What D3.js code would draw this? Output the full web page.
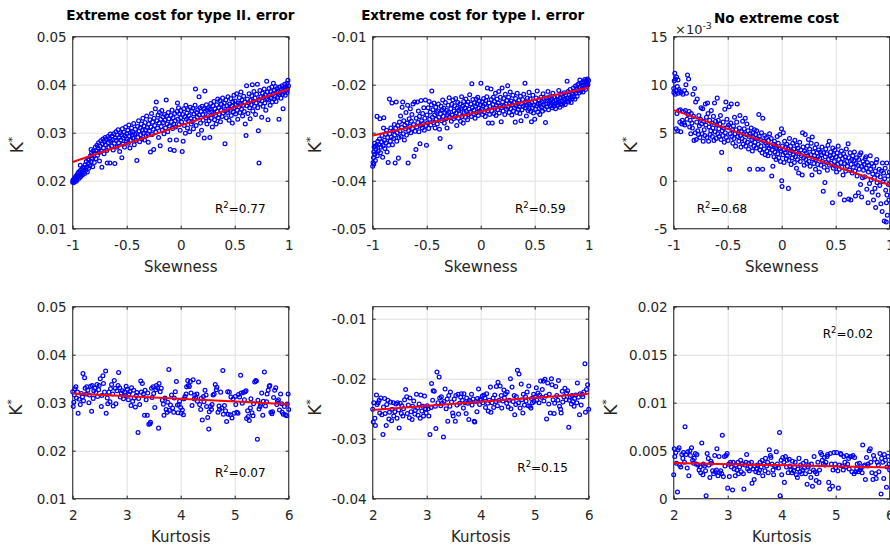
<!DOCTYPE html>
<html><head><meta charset="utf-8">
<script src="https://cdn.jsdelivr.net/npm/d3@7"></script>
<style>
body{margin:0;background:#fff;}
svg{display:block;font-family:"DejaVu Sans",sans-serif;}
</style></head><body>
<svg id="chart" width="890" height="546"></svg>
<script>
// ---- Optimal K* against skewness (top row) and kurtosis (bottom row) ----

const titles = ["Extreme cost for type II. error", "Extreme cost for type I. error", "No extreme cost"];
const xLabelTop = "Skewness";
const xLabelBottom = "Kurtosis";
const r2Values = ["0.77", "0.59", "0.68", "0.07", "0.15", "0.02"];

const skewTicks = [-1, -0.5, 0, 0.5, 1];
const skewTickLabels = ["-1", "-0.5", "0", "0.5", "1"];
const kurtTicks = [2, 3, 4, 5, 6];
const kurtTickLabels = ["2", "3", "4", "5", "6"];

const typeIIYTicks = [0.01, 0.02, 0.03, 0.04, 0.05];
const typeIIYLabels = ["0.01", "0.02", "0.03", "0.04", "0.05"];
const typeISkewYTicks = [-0.05, -0.04, -0.03, -0.02, -0.01];
const typeISkewYLabels = ["-0.05", "-0.04", "-0.03", "-0.02", "-0.01"];
const noExtSkewYTicks = [-5, 0, 5, 10, 15];           // in units of 1e-3
const noExtSkewYLabels = ["-5", "0", "5", "10", "15"];
const typeIKurtYTicks = [-0.04, -0.03, -0.02, -0.01];
const typeIKurtYLabels = ["-0.04", "-0.03", "-0.02", "-0.01"];
const noExtKurtYTicks = [0, 0.005, 0.01, 0.015, 0.02];
const noExtKurtYLabels = ["0", "0.005", "0.01", "0.015", "0.02"];

// fitted regression lines (end points)
const fitSkewTypeII = [[-1, 0.0239], [1, 0.0391]];
const fitSkewTypeI = [[-1, -0.0306], [1, -0.0206]];
const fitSkewNoExt = [[-1, 7.35], [1, -0.45]];
const fitKurtTypeII = [[2, 0.0319], [6, 0.0297]];
const fitKurtTypeI = [[2, -0.0252], [6, -0.0225]];
const fitKurtNoExt = [[2, 0.00372], [6, 0.00324]];

// [skewness, K*] extreme cost for type II error
const skewTypeII = [
[-1,.0197],[-.998,.0201],[-.995,.0199],[-.99,.0203],[-.985,.0198],[-.98,.0206],[-.975,.0202],[-.97,.0209],[-.965,.0204],[-.96,.0212],[-.955,.0207],[-.99,.0196],[-.97,.0199],[-.96,.0201],[-.952,.0215],
[-.948,.0210],[-.945,.0218],[-.94,.0205],[-.935,.0213],[-.93,.0221],[-.925,.0209],[-.92,.0216],[-.915,.0224],[-.91,.0212],[-.905,.0228],[-.9,.0219],[-.93,.0232],
[-.897,.0226],[-.89,.0215],[-.885,.0233],[-.88,.0222],[-.875,.0240],[-.87,.0229],[-.865,.0218],[-.86,.0245],[-.855,.0236],[-.852,.0226],
[-.848,.0243],[-.84,.0231],[-.835,.0252],[-.83,.0240],[-.825,.0258],[-.82,.0247],[-.815,.0229],[-.81,.0262],[-.805,.0251],[-.80,.0238],[-.83,.0265],
[-.797,.0258],[-.79,.0270],[-.785,.0246],[-.78,.0262],[-.775,.0274],[-.77,.0253],[-.765,.0268],[-.76,.0279],[-.755,.0259],[-.752,.0241],
[-.748,.0272],[-.74,.0283],[-.735,.0262],[-.73,.0228],[-.725,.0277],[-.72,.0287],[-.715,.0268],[-.71,.0256],[-.705,.0281],[-.70,.0290],
[-.697,.0275],[-.69,.0286],[-.685,.0263],[-.68,.0237],[-.675,.0292],[-.67,.0279],[-.665,.0269],[-.66,.0288],[-.655,.0237],[-.652,.0297],
[-.648,.0282],[-.64,.0272],[-.635,.0293],[-.63,.0285],[-.625,.0264],[-.62,.0298],[-.615,.0278],[-.61,.0236],[-.605,.0289],[-.60,.0302],
[-.597,.0284],[-.59,.0270],[-.585,.0295],[-.58,.0306],[-.575,.0279],[-.57,.0290],[-.565,.0261],[-.56,.0300],[-.555,.0285],[-.545,.0248],
[-.548,.0296],[-.54,.0308],[-.535,.0276],[-.53,.0289],[-.525,.0301],[-.52,.0270],[-.515,.0293],[-.51,.0312],[-.505,.0283],[-.50,.0298],
[-.497,.0287],[-.49,.0305],[-.485,.0278],[-.48,.0316],[-.475,.0293],[-.47,.0268],[-.465,.0300],[-.46,.0284],[-.455,.0310],[-.45,.0295],
[-.447,.0302],[-.44,.0288],[-.435,.0319],[-.43,.0275],[-.425,.0296],[-.42,.0307],[-.415,.0284],[-.41,.0298],[-.406,.0242],[-.40,.0313],
[-.397,.0290],[-.39,.0325],[-.385,.0303],[-.38,.0281],[-.375,.0310],[-.37,.0296],[-.365,.0318],[-.36,.0287],[-.355,.0305],[-.35,.0330],
[-.347,.0299],[-.34,.0314],[-.335,.0285],[-.33,.0321],[-.325,.0306],[-.32,.0293],[-.315,.0335],[-.31,.0311],[-.305,.0298],[-.30,.0280],
[-.297,.0318],[-.29,.0303],[-.285,.0327],[-.28,.0260],[-.275,.0312],[-.27,.0340],[-.265,.0296],[-.26,.0322],[-.255,.0307],[-.25,.0265],
[-.247,.0330],[-.24,.0315],[-.235,.0350],[-.23,.0301],[-.226,.0364],[-.22,.0325],[-.215,.0310],[-.21,.0337],[-.205,.0290],[-.20,.0320],
[-.197,.0342],[-.19,.0273],[-.185,.0328],[-.18,.0313],[-.175,.0346],[-.17,.0305],[-.165,.0333],[-.16,.0321],[-.155,.0298],[-.15,.0338],
[-.147,.0326],[-.14,.0310],[-.134,.0368],[-.13,.0335],[-.125,.0318],[-.12,.0302],[-.115,.0342],[-.11,.0329],[-.105,.0314],[-.10,.0285],
[-.097,.0265],[-.09,.0336],[-.085,.0322],[-.08,.0347],[-.075,.0309],[-.07,.0331],[-.065,.0318],[-.06,.0263],[-.055,.0340],[-.05,.0325],
[-.047,.0312],[-.04,.0285],[-.035,.0344],[-.03,.0362],[-.025,.0328],[-.02,.0352],[-.015,.0317],[-.01,.0339],[-.005,.0305],[0,.0331],
[.003,.0346],[.008,.0322],[.014,.0261],[.018,.0338],[.023,.0282],[.028,.0350],[.033,.0315],[.038,.0333],[.043,.0299],[.048,.0357],
[.053,.0328],[.058,.0341],[.063,.0310],[.068,.0348],[.073,.0325],[.078,.0336],[.083,.0302],[.088,.0353],[.093,.0330],[.098,.0318],
[.103,.0345],[.108,.0323],[.113,.0351],[.118,.0308],[.123,.0339],[.128,.0328],[.133,.0357],[.137,.0391],[.143,.0315],[.148,.0342],
[.153,.0332],[.158,.0348],[.163,.0296],[.17,.0375],[.173,.0337],[.178,.0352],[.183,.0320],[.188,.0344],[.193,.0305],[.198,.0355],
[.203,.0338],[.208,.0326],[.213,.0350],[.218,.0289],[.224,.0387],[.228,.0345],[.233,.0331],[.238,.0358],[.243,.0318],[.248,.0347],
[.253,.0336],[.258,.0352],[.263,.0325],[.27,.0290],[.273,.0349],[.278,.0361],[.283,.0330],[.288,.0343],[.293,.0312],[.298,.0356],
[.303,.0340],[.308,.0365],[.313,.0327],[.318,.0350],[.323,.0336],[.328,.0318],[.333,.0358],[.338,.0345],[.343,.0370],[.348,.0331],
[.353,.0352],[.358,.0338],[.363,.0367],[.368,.0323],[.373,.0347],[.378,.0359],[.383,.0334],[.388,.0372],[.393,.0341],[.398,.0355],
[.403,.0362],[.41,.0277],[.413,.0345],[.418,.0368],[.423,.0331],[.428,.0356],[.433,.0342],[.438,.0375],[.443,.0350],[.448,.0326],
[.453,.0360],[.458,.0347],[.463,.0371],[.468,.0336],[.473,.0356],[.478,.0320],[.483,.0364],[.488,.0343],[.493,.0378],[.498,.0352],
[.503,.0366],[.508,.0339],[.513,.0358],[.518,.0381],[.523,.0347],[.528,.0328],[.533,.0362],[.538,.0354],[.543,.0373],[.548,.0342],
[.553,.0360],[.558,.0385],[.563,.0349],[.568,.0368],[.573,.0335],[.578,.0357],[.583,.0376],[.588,.0344],[.593,.0364],[.598,.0318],
[.605,.0294],[.61,.0398],[.613,.0356],[.618,.0370],[.623,.0340],[.628,.0362],[.633,.0381],[.638,.0352],[.643,.0329],[.648,.0367],
[.653,.0358],[.658,.0377],[.663,.0400],[.668,.0345],[.673,.0366],[.678,.0386],[.683,.0355],[.688,.0372],[.693,.0338],[.698,.0362],
[.703,.0380],[.71,.0401],[.713,.0352],[.719,.0304],[.725,.0237],[.728,.0369],[.733,.0388],[.738,.0360],[.743,.0375],[.75,.0332],
[.753,.0366],[.758,.0382],[.763,.0355],[.768,.0374],[.773,.0391],[.778,.0362],[.783,.0379],[.788,.0347],[.796,.0407],[.798,.0370],
[.803,.0385],[.808,.0327],[.813,.0368],[.818,.0392],[.823,.0378],[.828,.0357],[.833,.0386],[.838,.0372],[.843,.0395],[.848,.0364],
[.853,.0381],[.858,.0403],[.863,.0370],[.868,.0388],[.873,.0376],[.878,.0396],[.883,.0365],[.888,.0384],[.893,.0392],[.898,.0374],
[.903,.0387],[.91,.0328],[.913,.0379],[.918,.0395],[.923,.0383],[.928,.0372],[.933,.0390],[.938,.0398],[.943,.0380],[.948,.0350],
[.953,.0392],[.958,.0385],[.963,.0401],[.968,.0378],[.973,.0395],[.978,.0388],[.983,.0403],[.988,.0391],[.993,.0409],[.998,.0398],[.965,.0393],[.985,.0384]
];

// [skewness, K*] extreme cost for type I error
const skewTypeI = [
[-1,-.0370],[-.997,-.0362],[-.993,-.0352],[-.99,-.0340],[-.987,-.0330],[-.983,-.0322],[-.98,-.0345],[-.975,-.0358],[-.97,-.0335],[-.965,-.0326],[-.96,-.0266],[-.957,-.0348],[-.953,-.0318],[-.99,-.0365],[-.975,-.0329],
[-.948,-.0338],[-.943,-.0325],[-.938,-.0313],[-.933,-.0271],[-.928,-.0342],[-.923,-.0330],[-.918,-.0319],[-.913,-.0306],[-.908,-.0351],[-.903,-.0327],[-.9,-.0290],
[-.897,-.0269],[-.892,-.0316],[-.887,-.0333],[-.882,-.0303],[-.877,-.0321],[-.872,-.0295],[-.867,-.0340],[-.862,-.0310],[-.857,-.0362],[-.852,-.0326],
[-.845,-.0230],[-.842,-.0302],[-.837,-.0318],[-.832,-.0290],[-.827,-.0309],[-.822,-.0238],[-.817,-.0325],[-.812,-.0296],[-.807,-.0312],[-.80,-.0283],
[-.797,-.0305],[-.792,-.0363],[-.787,-.0291],[-.782,-.0236],[-.777,-.0318],[-.772,-.0300],[-.767,-.0285],[-.762,-.0353],[-.757,-.0310],[-.752,-.0278],
[-.747,-.0296],[-.742,-.0265],[-.737,-.0308],[-.732,-.0289],[-.727,-.0247],[-.722,-.0236],[-.717,-.0302],[-.712,-.0275],[-.707,-.0315],[-.702,-.0284],
[-.697,-.0292],[-.692,-.0258],[-.687,-.0305],[-.682,-.0280],[-.677,-.0243],[-.672,-.0363],[-.667,-.0296],[-.662,-.0271],[-.657,-.0287],[-.652,-.0250],
[-.647,-.0300],[-.642,-.0276],[-.637,-.0262],[-.632,-.0291],[-.627,-.0240],[-.622,-.0283],[-.617,-.0349],[-.612,-.0236],[-.607,-.0297],[-.60,-.0335],
[-.597,-.0270],[-.592,-.0288],[-.587,-.0236],[-.582,-.0279],[-.577,-.0255],[-.572,-.0298],[-.567,-.0266],[-.562,-.0323],[-.557,-.0285],[-.552,-.0233],
[-.547,-.0275],[-.542,-.0290],[-.537,-.0260],[-.532,-.0281],[-.527,-.0248],[-.522,-.0295],[-.517,-.0270],[-.512,-.0232],[-.507,-.0285],[-.502,-.0326],
[-.497,-.0263],[-.492,-.0280],[-.487,-.0248],[-.482,-.0291],[-.477,-.0235],[-.472,-.0272],[-.467,-.0257],[-.462,-.0284],[-.457,-.0242],[-.453,-.0213],
[-.447,-.0268],[-.442,-.0252],[-.437,-.0279],[-.432,-.0238],[-.427,-.0263],[-.422,-.0290],[-.417,-.0247],[-.412,-.0272],[-.407,-.0258],[-.402,-.0282],
[-.397,-.0255],[-.392,-.0240],[-.387,-.0268],[-.382,-.0293],[-.376,-.0312],[-.372,-.0261],[-.367,-.0245],[-.362,-.0275],[-.357,-.0252],[-.352,-.0232],
[-.347,-.0266],[-.342,-.0249],[-.337,-.0280],[-.332,-.0258],[-.327,-.0237],[-.322,-.0271],[-.317,-.0254],[-.312,-.0290],[-.307,-.0262],[-.302,-.0243],
[-.297,-.0258],[-.292,-.0227],[-.287,-.0268],[-.283,-.0330],[-.277,-.0250],[-.272,-.0276],[-.267,-.0241],[-.262,-.0263],[-.257,-.0232],[-.252,-.0271],
[-.247,-.0255],[-.242,-.0244],[-.237,-.0266],[-.232,-.0229],[-.227,-.0259],[-.222,-.0285],[-.217,-.0249],[-.212,-.0237],[-.207,-.0270],[-.202,-.0253],
[-.197,-.0261],[-.192,-.0240],[-.187,-.0276],[-.182,-.0250],[-.177,-.0225],[-.172,-.0266],[-.167,-.0245],[-.162,-.0280],[-.157,-.0235],[-.152,-.0258],
[-.147,-.0248],[-.142,-.0268],[-.137,-.0230],[-.132,-.0256],[-.127,-.0242],[-.122,-.0273],[-.117,-.0236],[-.112,-.0262],[-.107,-.0251],[-.102,-.0221],
[-.097,-.0257],[-.092,-.0240],[-.087,-.0266],[-.082,-.0198],[-.077,-.0248],[-.072,-.0231],[-.067,-.0261],[-.062,-.0253],[-.057,-.0237],[-.052,-.0270],
[-.047,-.0245],[-.042,-.0230],[-.037,-.0258],[-.032,-.0240],[-.027,-.0226],[-.022,-.0264],[-.017,-.0249],[-.012,-.0234],[-.007,-.0255],[-.002,-.0242],
[.002,-.0197],[.007,-.0251],[.012,-.0236],[.017,-.0262],[.022,-.0244],[.027,-.0229],[.032,-.0257],[.037,-.0240],[.042,-.0266],[.047,-.0233],
[.052,-.0248],[.057,-.0225],[.062,-.0207],[.067,-.0254],[.072,-.0280],[.077,-.0238],[.082,-.0262],[.087,-.0245],[.095,-.0209],[.098,-.0231],
[.102,-.0255],[.107,-.0280],[.112,-.0241],[.117,-.0226],[.122,-.0260],[.127,-.0235],[.132,-.0249],[.137,-.0218],[.142,-.0264],[.147,-.0243],
[.152,-.0230],[.157,-.0252],[.162,-.0238],[.167,-.0214],[.172,-.0259],[.177,-.0245],[.182,-.0226],[.19,-.0277],[.193,-.0248],[.198,-.0207],
[.203,-.0236],[.208,-.0255],[.213,-.0229],[.218,-.0244],[.223,-.0262],[.228,-.0220],[.233,-.0240],[.238,-.0251],[.243,-.0233],[.25,-.0202],
[.253,-.0247],[.258,-.0226],[.263,-.0258],[.268,-.0238],[.273,-.0215],[.278,-.0250],[.283,-.0234],[.288,-.0263],[.293,-.0242],[.298,-.0222],
[.303,-.0255],[.308,-.0237],[.313,-.0248],[.32,-.0278],[.323,-.0229],[.328,-.0244],[.333,-.0258],[.338,-.0218],[.343,-.0239],[.348,-.0251],
[.353,-.0233],[.358,-.0246],[.363,-.0260],[.368,-.0224],[.373,-.0275],[.378,-.0240],[.383,-.0252],[.388,-.0231],[.393,-.0245],[.398,-.0220],
[.41,-.0197],[.413,-.0248],[.418,-.0236],[.423,-.0265],[.428,-.0243],[.433,-.0228],[.438,-.0254],[.443,-.0239],[.448,-.0216],[.45,-.0250],
[.453,-.0241],[.458,-.0230],[.463,-.0256],[.47,-.0277],[.473,-.0237],[.478,-.0248],[.483,-.0222],[.488,-.0259],[.493,-.0243],[.50,-.0272],
[.503,-.0235],[.508,-.0251],[.513,-.0228],[.518,-.0244],[.523,-.0213],[.528,-.0257],[.533,-.0240],[.538,-.0232],[.543,-.0249],[.548,-.0262],
[.553,-.0238],[.558,-.0226],[.563,-.0247],[.568,-.0235],[.573,-.0255],[.578,-.0219],[.583,-.0242],[.588,-.0230],[.593,-.0251],[.60,-.0279],
[.603,-.0240],[.608,-.0228],[.613,-.0246],[.618,-.0234],[.623,-.0214],[.628,-.0252],[.633,-.0237],[.638,-.0225],[.643,-.0244],[.648,-.0233],
[.653,-.0241],[.658,-.0229],[.663,-.0248],[.668,-.0218],[.673,-.0236],[.678,-.0245],[.683,-.0226],[.688,-.0239],[.693,-.0250],[.698,-.0232],
[.703,-.0238],[.708,-.0224],[.713,-.0243],[.718,-.0231],[.723,-.0212],[.728,-.0236],[.733,-.0247],[.738,-.0228],[.743,-.0240],[.748,-.0220],
[.753,-.0234],[.758,-.0243],[.763,-.0226],[.768,-.0237],[.773,-.0217],[.778,-.0230],[.783,-.0241],[.788,-.0222],[.793,-.0235],[.80,-.0193],
[.803,-.0228],[.808,-.0214],[.813,-.0236],[.818,-.0222],[.823,-.0231],[.828,-.0210],[.833,-.0226],[.838,-.0237],[.843,-.0218],[.848,-.0229],
[.853,-.0220],[.858,-.0207],[.863,-.0225],[.868,-.0214],[.873,-.0230],[.878,-.0203],[.883,-.0218],[.888,-.0209],[.893,-.0224],[.898,-.0200],
[.903,-.0212],[.908,-.0198],[.913,-.0217],[.918,-.0190],[.923,-.0205],[.928,-.0213],[.933,-.0196],[.938,-.0208],[.943,-.0201],[.948,-.0215],
[.953,-.0194],[.958,-.0206],[.963,-.0189],[.968,-.0199],[.973,-.0192],[.978,-.0203],[.983,-.0195],[.988,-.0188],[.993,-.0200],[.998,-.0191],[.97,-.0210],[.99,-.0196]
];

// [skewness, K* x 1e-3] no extreme cost
const skewNoExt = [
[-1,9.6],[-.998,9.2],[-.995,10.4],[-.99,11.2],[-.987,9.0],[-.983,10.6],[-.98,9.4],[-.977,5.4],[-.973,10.8],[-.97,7.0],[-.967,9.8],[-.963,5.2],[-.96,10.5],[-.957,9.1],[-.953,7.3],[-.95,9.5],
[-.947,9.3],[-.943,6.1],[-.94,7.4],[-.935,5.1],[-.93,9.2],[-.925,5.9],[-.92,6.3],[-.915,9.0],[-.91,7.2],[-.905,6.0],[-.9,9.4],
[-.897,5.8],[-.892,7.3],[-.887,10.0],[-.882,9.1],[-.877,6.4],[-.872,11.0],[-.867,6.9],[-.862,10.6],[-.857,7.2],[-.852,5.6],
[-.847,6.3],[-.842,4.9],[-.837,7.0],[-.832,6.0],[-.827,5.5],[-.822,9.0],[-.817,6.7],[-.812,4.2],[-.807,9.6],[-.80,5.0],
[-.797,8.2],[-.792,4.3],[-.787,6.1],[-.782,8.5],[-.777,5.2],[-.772,4.8],[-.767,6.8],[-.762,5.7],[-.757,4.5],[-.752,6.4],
[-.747,7.6],[-.742,5.9],[-.737,4.9],[-.732,7.5],[-.727,4.1],[-.722,6.2],[-.717,5.3],[-.712,4.7],[-.707,8.0],[-.702,5.8],
[-.697,6.6],[-.692,4.5],[-.687,8.1],[-.682,7.0],[-.677,4.1],[-.672,5.6],[-.667,6.3],[-.662,4.8],[-.657,5.2],[-.652,7.3],
[-.647,6.0],[-.642,4.6],[-.637,5.5],[-.632,6.7],[-.627,4.2],[-.622,8.1],[-.617,5.1],[-.612,6.2],[-.607,4.4],[-.60,5.8],
[-.597,8.6],[-.592,4.9],[-.587,6.3],[-.582,5.4],[-.577,4.6],[-.572,5.9],[-.567,6.8],[-.562,4.3],[-.556,2.95],[-.552,5.2],
[-.547,4.7],[-.542,6.1],[-.537,5.5],[-.532,4.0],[-.527,7.45],[-.522,5.0],[-.517,8.2],[-.512,4.5],[-.507,6.4],[-.502,5.6],
[-.497,4.2],[-.492,5.8],[-.487,7.7],[-.482,1.2],[-.477,4.9],[-.472,6.0],[-.467,8.0],[-.462,4.6],[-.457,5.3],[-.452,3.9],
[-.447,5.7],[-.442,4.4],[-.437,6.6],[-.432,4.9],[-.427,3.6],[-.422,5.3],[-.417,6.1],[-.412,8.0],[-.407,4.6],[-.402,5.0],
[-.397,4.1],[-.392,5.5],[-.387,6.8],[-.382,4.7],[-.377,3.5],[-.372,5.1],[-.367,4.4],[-.362,6.2],[-.357,3.8],[-.352,4.9],
[-.347,5.4],[-.342,4.2],[-.337,6.5],[-.332,3.6],[-.327,4.8],[-.322,5.9],[-.317,4.0],[-.312,5.2],[-.307,3.3],[-.302,4.6],
[-.297,1.2],[-.292,4.9],[-.287,3.8],[-.282,5.5],[-.277,4.3],[-.272,3.1],[-.267,5.0],[-.262,4.5],[-.257,3.6],[-.252,5.3],
[-.247,4.0],[-.242,4.8],[-.237,3.4],[-.232,5.2],[-.227,4.4],[-.222,1.2],[-.217,3.8],[-.212,6.9],[-.207,4.6],[-.202,3.2],
[-.197,4.3],[-.192,3.6],[-.187,5.0],[-.182,2.9],[-.177,1.2],[-.175,6.5],[-.167,4.1],[-.162,3.3],[-.157,4.7],[-.152,2.7],
[-.147,3.9],[-.142,4.5],[-.137,3.1],[-.132,3.7],[-.127,2.6],[-.122,4.2],[-.117,3.4],[-.112,4.9],[-.107,2.9],[-.102,3.6],
[-.097,4.4],[-.092,0.5],[-.087,3.2],[-.082,1.5],[-.077,3.8],[-.072,2.5],[-.067,4.1],[-.062,3.0],[-.057,3.6],[-.052,2.2],
[-.047,3.4],[-.042,4.6],[-.037,2.8],[-.032,3.9],[-.027,2.4],[-.022,3.3],[-.017,4.8],[-.012,2.0],[-.007,3.1],[-.002,5.4],
[0,0.0],[.003,-0.6],[.007,3.6],[.012,2.7],[.015,5.0],[.018,3.2],[.022,1.9],[.027,4.1],[.032,2.9],[.037,3.5],[.042,2.3],[.047,3.8],
[.052,2.6],[.057,3.3],[.062,-0.8],[.067,2.1],[.072,4.4],[.077,2.9],[.082,3.6],[.087,1.7],[.092,3.1],[.097,2.4],
[.102,3.9],[.107,2.7],[.112,3.3],[.117,1.9],[.122,4.2],[.127,2.5],[.132,3.0],[.137,1.3],[.142,3.7],[.147,2.2],
[.152,3.4],[.157,0.8],[.162,2.8],[.167,4.0],[.172,2.0],[.177,3.2],[.182,2.6],[.19,0.6],[.193,5.0],[.198,3.5],
[.203,2.4],[.208,1.6],[.213,3.1],[.218,4.8],[.223,2.2],[.228,2.9],[.233,1.8],[.238,3.6],[.243,2.6],[.248,4.3],
[.253,2.0],[.258,3.3],[.263,1.5],[.268,2.7],[.273,3.9],[.28,0.6],[.283,4.55],[.288,2.3],[.293,3.0],[.298,1.8],
[.303,2.6],[.308,3.4],[.313,1.2],[.318,2.2],[.323,3.8],[.328,2.9],[.333,1.7],[.338,2.5],[.343,3.2],[.348,0.9],
[.353,2.3],[.358,3.0],[.363,1.6],[.368,2.7],[.373,3.5],[.378,2.0],[.385,-1.1],[.388,2.9],[.393,1.4],[.40,-0.2],
[.403,2.5],[.408,3.3],[.413,1.9],[.418,2.8],[.423,1.1],[.428,3.7],[.433,2.2],[.44,4.1],[.443,1.6],[.448,2.6],
[.453,3.0],[.458,1.8],[.463,2.4],[.47,-2.3],[.473,3.4],[.478,1.3],[.483,2.7],[.488,2.0],[.493,3.2],[.498,1.5],
[.503,2.5],[.508,0.9],[.513,2.9],[.518,1.7],[.523,3.6],[.528,2.2],[.533,1.2],[.54,-1.4],[.543,2.6],[.548,1.9],
[.553,3.1],[.558,1.4],[.563,2.3],[.568,0.6],[.573,2.8],[.58,-2.0],[.583,1.8],[.588,2.5],[.593,1.0],[.598,3.3],
[.603,2.0],[.608,1.5],[.615,3.85],[.62,-1.9],[.623,2.4],[.628,1.1],[.633,2.9],[.64,-2.0],[.643,1.7],[.648,2.2],
[.653,0.8],[.658,2.6],[.663,1.4],[.668,2.1],[.673,3.0],[.678,1.0],[.683,-1.6],[.688,1.8],[.693,2.4],[.698,0.5],
[.703,1.6],[.71,-1.26],[.713,2.2],[.718,1.2],[.723,2.7],[.73,-0.4],[.733,2.9],[.74,-1.7],[.743,1.5],[.748,0.3],
[.753,2.0],[.758,1.1],[.763,1.7],[.768,0.4],[.773,2.3],[.78,2.5],[.783,1.3],[.788,-0.9],[.793,1.9],[.80,-2.3],
[.803,0.9],[.808,1.6],[.813,-0.3],[.82,2.6],[.823,1.2],[.828,0.1],[.833,1.8],[.838,-1.2],[.843,0.7],[.85,-2.0],
[.853,1.5],[.858,0.3],[.863,-0.8],[.868,1.0],[.87,-2.8],[.875,1.9],[.88,2.2],[.883,-0.2],[.888,0.6],[.893,-1.5],
[.903,1.2],[.908,-0.5],[.913,0.4],[.918,-2.4],[.923,1.0],[.93,-3.2],[.933,1.85],[.938,-0.1],[.943,0.8],[.95,-4.2],
[.953,0.2],[.958,1.3],[.963,-1.0],[.968,-4.3],[.97,-2.3],[.973,1.85],[.975,-1.5],[.978,-3.6],[.983,0.5],[.988,-0.4],[.993,-2.0],[.998,0.9]
];

// [kurtosis, K*] extreme cost for type II error
const kurtTypeII = [
[2.0,.0323],[2.01,.0292],[2.02,.0301],[2.03,.0316],[2.04,.0329],[2.06,.0333],[2.07,.0310],[2.09,.0322],[2.1,.0278],[2.12,.0307],[2.14,.0296],[2.16,.0319],[2.18,.0312],[2.19,.0361],[2.2,.0304],
[2.22,.0352],[2.23,.0330],[2.25,.0318],[2.26,.0333],[2.28,.0326],[2.3,.0300],[2.31,.0316],[2.33,.0334],[2.35,.0282],[2.36,.0336],[2.38,.0309],[2.39,.0325],
[2.41,.0330],[2.43,.0321],[2.45,.0338],[2.46,.0313],[2.48,.0327],[2.49,.0336],[2.51,.0350],[2.53,.0292],[2.54,.0315],[2.56,.0356],[2.57,.0340],[2.59,.0322],
[2.61,.0366],[2.62,.0278],[2.64,.0310],[2.65,.0298],[2.67,.0322],[2.69,.0302],[2.7,.0329],[2.72,.0338],[2.74,.0318],[2.75,.0293],[2.77,.0346],[2.79,.0330],
[2.8,.0298],[2.82,.0325],[2.84,.0336],[2.85,.0363],[2.87,.0331],[2.88,.0312],[2.9,.0320],[2.92,.0325],[2.94,.0308],[2.96,.0322],[2.98,.0315],[2.99,.0334],
[3.01,.0328],[3.03,.0306],[3.04,.0318],[3.06,.0323],[3.08,.0294],[3.09,.0331],[3.11,.0303],[3.13,.0326],[3.14,.0310],[3.16,.0291],[3.18,.0315],[3.19,.0321],
[3.21,.0238],[3.22,.0309],[3.24,.0296],[3.26,.0345],[3.27,.0322],[3.29,.0340],[3.31,.0318],[3.33,.0274],[3.34,.0326],[3.36,.0306],[3.38,.0274],[3.39,.0320],
[3.41,.0255],[3.43,.0256],[3.44,.0259],[3.46,.0330],[3.47,.0311],[3.49,.0333],[3.5,.0319],[3.52,.0290],[3.54,.0327],[3.55,.0336],[3.57,.0331],[3.59,.0247],
[3.6,.0340],[3.62,.0323],[3.64,.0330],[3.66,.0305],[3.68,.0297],[3.69,.0274],[3.71,.0310],[3.73,.0286],[3.75,.0280],[3.76,.0301],[3.78,.0369],[3.79,.0284],
[3.81,.0295],[3.83,.0316],[3.85,.0289],[3.87,.0280],[3.88,.0310],[3.9,.0323],[3.92,.0344],[3.94,.0295],[3.95,.0279],[3.97,.0296],[3.98,.0303],[4.0,.0290],
[4.01,.0278],[4.03,.0285],[4.05,.0275],[4.06,.0308],[4.08,.0313],[4.1,.0318],[4.11,.0333],[4.13,.0346],[4.14,.0336],[4.16,.0334],[4.18,.0344],[4.19,.0320],
[4.21,.0294],[4.23,.0348],[4.25,.0308],[4.26,.0316],[4.28,.0311],[4.3,.0318],[4.31,.0303],[4.33,.0343],[4.35,.0296],[4.37,.0286],[4.38,.0309],[4.4,.0264],
[4.42,.0313],[4.43,.0302],[4.45,.0326],[4.47,.0316],[4.48,.0292],[4.5,.0269],[4.52,.0245],[4.53,.0281],[4.55,.0292],[4.57,.0286],[4.58,.0296],[4.6,.0316],
[4.62,.0318],[4.64,.0338],[4.66,.0327],[4.67,.0332],[4.69,.0280],[4.71,.0293],[4.72,.0286],[4.74,.0322],[4.76,.0289],[4.78,.0367],[4.79,.0276],
[4.81,.0294],[4.83,.0283],[4.85,.0261],[4.87,.0323],[4.88,.0276],[4.9,.0322],[4.92,.0275],[4.93,.0312],[4.95,.0268],[4.97,.0308],[4.99,.0278],
[5.01,.0313],[5.02,.0296],[5.04,.0280],[5.06,.0278],[5.07,.0317],[5.09,.0312],[5.11,.0357],[5.12,.0320],[5.14,.0299],[5.16,.0321],[5.18,.0306],[5.19,.0323],
[5.21,.0325],[5.22,.0267],[5.24,.0283],[5.25,.0271],[5.27,.0263],[5.29,.0289],[5.3,.0308],[5.32,.0279],[5.34,.0273],[5.35,.0298],[5.37,.0343],[5.39,.0346],
[5.4,.0345],[5.42,.0224],[5.43,.0305],[5.45,.0287],[5.47,.0292],[5.48,.0297],[5.5,.0320],[5.52,.0274],[5.53,.0303],[5.55,.0364],[5.57,.0293],[5.59,.0302],
[5.6,.0318],[5.62,.0326],[5.64,.0334],[5.65,.0336],[5.67,.0280],[5.69,.0277],[5.7,.0281],[5.72,.0311],[5.74,.0326],[5.76,.0331],[5.78,.0296],[5.79,.0303],
[5.81,.0306],[5.83,.0285],[5.85,.0318],[5.87,.0298],[5.88,.0280],[5.9,.0276],[5.92,.0292],[5.94,.0275],[5.96,.0273],[5.97,.0297],[5.99,.0318],[6.0,.0286]
];

// [kurtosis, K*] extreme cost for type I error
const kurtTypeI = [
[2.0,-.0251],[2.01,-.0272],[2.02,-.0240],[2.04,-.0266],[2.05,-.0278],[2.07,-.0227],[2.08,-.0243],[2.1,-.0240],[2.12,-.0236],[2.13,-.0257],[2.15,-.0232],[2.17,-.0260],[2.19,-.0293],[2.2,-.0247],
[2.22,-.0233],[2.23,-.0258],[2.25,-.0278],[2.26,-.0243],[2.28,-.0236],[2.3,-.0267],[2.31,-.0256],[2.33,-.0239],[2.35,-.0270],[2.36,-.0251],[2.38,-.0240],[2.39,-.0262],
[2.41,-.0255],[2.43,-.0242],[2.45,-.0266],[2.46,-.0240],[2.48,-.0252],[2.49,-.0282],[2.51,-.0241],[2.53,-.0258],[2.54,-.0245],[2.56,-.0262],[2.57,-.0250],[2.59,-.0235],
[2.61,-.0218],[2.63,-.0230],[2.64,-.0258],[2.66,-.0244],[2.68,-.0265],[2.69,-.0232],[2.71,-.0255],[2.73,-.0268],[2.74,-.0246],[2.76,-.0237],[2.78,-.0259],[2.79,-.0253],
[2.81,-.0226],[2.83,-.0249],[2.84,-.0261],[2.86,-.0242],[2.88,-.0266],[2.89,-.0227],[2.91,-.0254],[2.93,-.0246],[2.94,-.0262],[2.96,-.0229],[2.98,-.0250],[2.99,-.0257],
[3.01,-.0245],[3.03,-.0250],[3.04,-.0262],[3.06,-.0293],[3.08,-.0248],[3.09,-.0208],[3.11,-.0236],[3.12,-.0220],[3.14,-.0221],[3.16,-.0246],[3.17,-.0283],[3.19,-.0189],
[3.21,-.0240],[3.23,-.0197],[3.24,-.0232],[3.26,-.0245],[3.27,-.0230],[3.29,-.0241],[3.31,-.0297],[3.32,-.0238],[3.34,-.0217],[3.36,-.0250],[3.38,-.0234],[3.39,-.0271],
[3.41,-.0228],[3.43,-.0246],[3.44,-.0222],[3.46,-.0239],[3.48,-.0257],[3.49,-.0262],[3.51,-.0234],[3.53,-.0271],[3.54,-.0228],[3.56,-.0244],[3.58,-.0226],[3.59,-.0259],
[3.61,-.0241],[3.63,-.0231],[3.64,-.0225],[3.66,-.0236],[3.68,-.0249],[3.69,-.0225],[3.71,-.0240],[3.73,-.0258],[3.74,-.0232],[3.76,-.0241],[3.78,-.0268],[3.79,-.0236],
[3.81,-.0238],[3.83,-.0226],[3.84,-.0244],[3.86,-.0234],[3.88,-.0271],[3.89,-.0272],[3.91,-.0238],[3.93,-.0255],[3.94,-.0233],[3.96,-.0217],[3.98,-.0243],[3.99,-.0234],
[4.01,-.0236],[4.03,-.0229],[4.04,-.0240],[4.06,-.0227],[4.08,-.0232],[4.09,-.0248],[4.11,-.0225],[4.13,-.0241],[4.14,-.0254],[4.16,-.0236],[4.18,-.0214],[4.19,-.0256],
[4.21,-.0240],[4.23,-.0232],[4.24,-.0248],[4.26,-.0227],[4.28,-.0238],[4.29,-.0213],[4.31,-.0245],[4.32,-.0206],[4.34,-.0236],[4.36,-.0212],[4.38,-.0228],[4.39,-.0249],
[4.41,-.0237],[4.43,-.0219],[4.44,-.0232],[4.46,-.0225],[4.48,-.0241],[4.49,-.0222],[4.51,-.0247],[4.53,-.0236],[4.55,-.0200],[4.56,-.0250],[4.58,-.0214],[4.6,-.0238],
[4.62,-.0228],[4.63,-.0260],[4.65,-.0243],[4.66,-.0230],[4.68,-.0186],[4.7,-.0240],[4.71,-.0192],[4.73,-.0249],[4.75,-.0209],[4.76,-.0235],[4.78,-.0257],[4.79,-.0226],
[4.81,-.0244],[4.83,-.0230],[4.84,-.0237],[4.86,-.0222],[4.88,-.0245],[4.89,-.0212],[4.91,-.0246],[4.93,-.0249],[4.94,-.0233],[4.96,-.0240],[4.98,-.0226],[4.99,-.0238],
[5.01,-.0230],[5.03,-.0215],[5.04,-.0236],[5.06,-.0224],[5.08,-.0240],[5.09,-.0227],[5.11,-.0204],[5.13,-.0231],[5.14,-.0218],[5.16,-.0204],[5.17,-.0237],[5.19,-.0201],
[5.21,-.0229],[5.22,-.0267],[5.24,-.0207],[5.26,-.0242],[5.27,-.0226],[5.29,-.0257],[5.31,-.0200],[5.32,-.0210],[5.34,-.0235],[5.36,-.0258],[5.37,-.0241],[5.39,-.0213],
[5.41,-.0228],[5.43,-.0236],[5.44,-.0203],[5.46,-.0246],[5.48,-.0251],[5.49,-.0257],[5.51,-.0221],[5.52,-.0239],[5.54,-.0230],[5.56,-.0216],[5.58,-.0235],[5.59,-.0224],
[5.61,-.0220],[5.63,-.0281],[5.64,-.0236],[5.66,-.0231],[5.68,-.0242],[5.69,-.0228],[5.71,-.0238],[5.73,-.0246],[5.74,-.0233],[5.76,-.0227],[5.78,-.0240],[5.79,-.0207],
[5.81,-.0231],[5.83,-.0260],[5.84,-.0225],[5.86,-.0244],[5.88,-.0226],[5.89,-.0230],[5.91,-.0222],[5.93,-.0175],[5.94,-.0256],[5.96,-.0218],[5.98,-.0210],[6.0,-.0251]
];

// [kurtosis, K*] no extreme cost
const kurtNoExt = [
[2.0,.0025],[2.01,.0052],[2.02,.0044],[2.04,.0048],[2.05,.0037],[2.07,.0007],[2.08,.0051],[2.1,.0053],[2.11,.0035],[2.13,.0033],[2.15,.0046],[2.17,.0042],[2.18,.0048],[2.2,.0038],
[2.21,.0075],[2.23,.0046],[2.25,.0032],[2.26,.0049],[2.28,.0024],[2.3,.0050],[2.31,.0045],[2.33,.0053],[2.35,.0040],[2.37,.0037],[2.38,.0042],[2.4,.0047],
[2.42,.0036],[2.43,.0046],[2.45,.0035],[2.47,.0030],[2.49,.0033],[2.5,.0027],[2.52,.0058],[2.54,.0025],[2.55,.0036],[2.57,.0034],[2.59,.0029],[2.6,.0003],
[2.62,.0047],[2.64,.0042],[2.65,.0035],[2.67,.0022],[2.69,.0039],[2.7,.0037],[2.72,.0029],[2.74,.0026],[2.76,.0045],[2.77,.0028],[2.79,.0030],[2.8,.0052],
[2.82,.0024],[2.84,.0044],[2.85,.0027],[2.87,.0029],[2.89,.0026],[2.9,.0066],[2.92,.0023],[2.94,.0044],[2.95,.0034],[2.97,.0045],[2.99,.0047],[3.0,.0011],
[3.02,.0036],[3.03,.0023],[3.05,.0038],[3.07,.0033],[3.09,.0009],[3.1,.0038],[3.12,.0031],[3.14,.0024],[3.15,.0035],[3.17,.0030],[3.19,.0038],[3.2,.0026],
[3.22,.0033],[3.24,.0040],[3.25,.0028],[3.27,.0036],[3.29,.0026],[3.3,.0010],[3.32,.0035],[3.34,.0038],[3.35,.0046],[3.37,.0031],[3.39,.0037],[3.4,.0029],
[3.42,.0033],[3.44,.0038],[3.45,.0016],[3.47,.0031],[3.49,.0020],[3.5,.0034],[3.52,.0028],[3.54,.0031],[3.55,.0035],[3.57,.0027],[3.59,.0030],[3.6,.0038],
[3.62,.0033],[3.64,.0040],[3.65,.0024],[3.67,.0036],[3.69,.0029],[3.7,.0042],[3.72,.0034],[3.74,.0038],[3.75,.0027],[3.77,.0051],[3.79,.0045],[3.8,.0043],
[3.82,.0036],[3.84,.0030],[3.85,.0025],[3.87,.0034],[3.89,.0033],[3.9,.0049],[3.92,.0036],[3.94,.0032],[3.96,.0069],[3.97,.0003],[3.99,.0040],[4.0,.0025],
[4.02,.0043],[4.04,.0038],[4.05,.0017],[4.07,.0044],[4.09,.0033],[4.1,.0040],[4.12,.0027],[4.14,.0041],[4.15,.0034],[4.17,.0030],[4.19,.0027],[4.2,.0039],
[4.22,.0029],[4.24,.0033],[4.25,.0038],[4.27,.0025],[4.29,.0022],[4.3,.0031],[4.32,.0042],[4.34,.0028],[4.35,.0035],[4.37,.0026],[4.39,.0030],[4.4,.0037],
[4.42,.0032],[4.44,.0026],[4.45,.0039],[4.47,.0015],[4.49,.0033],[4.5,.0035],[4.52,.0028],[4.54,.0022],[4.55,.0036],[4.57,.0013],[4.59,.0030],[4.6,.0044],
[4.62,.0028],[4.64,.0019],[4.65,.0026],[4.67,.0038],[4.69,.0017],[4.7,.0030],[4.72,.0048],[4.74,.0046],[4.75,.0040],[4.77,.0036],[4.79,.0043],[4.8,.0035],
[4.82,.0038],[4.84,.0044],[4.85,.0046],[4.87,.0017],[4.89,.0010],[4.9,.0047],[4.92,.0036],[4.94,.0013],[4.95,.0030],[4.97,.0048],[4.99,.0036],[5.0,.0032],
[5.02,.0048],[5.04,.0029],[5.05,.0011],[5.07,.0035],[5.09,.0047],[5.1,.0046],[5.12,.0034],[5.14,.0030],[5.15,.0044],[5.17,.0038],[5.19,.0033],[5.2,.0045],
[5.22,.0036],[5.24,.0042],[5.25,.0031],[5.27,.0044],[5.29,.0044],[5.3,.0028],[5.32,.0045],[5.34,.0026],[5.35,.0043],[5.37,.0028],[5.39,.0031],[5.4,.0036],
[5.42,.0028],[5.44,.0037],[5.45,.0030],[5.47,.0032],[5.49,.0027],[5.5,.0056],[5.52,.0034],[5.54,.0035],[5.55,.0020],[5.57,.0043],[5.59,.0034],[5.6,.0036],
[5.62,.0050],[5.64,.0052],[5.65,.0038],[5.67,.0027],[5.69,.0020],[5.7,.0045],[5.72,.0041],[5.74,.0026],[5.75,.0021],[5.77,.0038],[5.79,.0035],[5.8,.0028],
[5.82,.0047],[5.84,.0005],[5.85,.0042],[5.87,.0038],[5.89,.0021],[5.9,.0046],[5.92,.0040],[5.94,.0012],[5.95,.0033],[5.97,.0044],[5.99,.0036],[6.0,.0030]
];

// ---- layout ----
const colLeft = [72.7, 372.7, 673.7];
const rowTop = [36.7, 306.7];
const yLabelCenter = [145, 407.5];
const PW = 216, PH = 192;
const INK = "#262626";

const panels = [
  {col:0,row:0,data:skewTypeII,fit:fitSkewTypeII,xDom:[-1,1],yDom:[0.01,0.05],xT:skewTicks,xL:skewTickLabels,yT:typeIIYTicks,yL:typeIIYLabels,
   title:titles[0],titleX:180.3,titleY:20,xlab:xLabelTop,r2:r2Values[0],r2Pos:[142.3,176.6],ylabX:23.3},
  {col:1,row:0,data:skewTypeI,fit:fitSkewTypeI,xDom:[-1,1],yDom:[-0.05,-0.01],xT:skewTicks,xL:skewTickLabels,yT:typeISkewYTicks,yL:typeISkewYLabels,
   title:titles[1],titleX:472.7,titleY:20,xlab:xLabelTop,r2:r2Values[1],r2Pos:[142.3,176.6],ylabX:320.7},
  {col:2,row:0,data:skewNoExt,fit:fitSkewNoExt,xDom:[-1,1],yDom:[-5,15],xT:skewTicks,xL:skewTickLabels,yT:noExtSkewYTicks,yL:noExtSkewYLabels,
   title:titles[2],titleX:776.5,titleY:22.7,xlab:xLabelTop,r2:r2Values[2],r2Pos:[23,176.6],ylabX:637.3,expo:true},
  {col:0,row:1,data:kurtTypeII,fit:fitKurtTypeII,xDom:[2,6],yDom:[0.01,0.05],xT:kurtTicks,xL:kurtTickLabels,yT:typeIIYTicks,yL:typeIIYLabels,
   xlab:xLabelBottom,r2:r2Values[3],r2Pos:[142.3,170],ylabX:21.7},
  {col:1,row:1,data:kurtTypeI,fit:fitKurtTypeI,xDom:[2,6],yDom:[-0.04,-0.008],xT:kurtTicks,xL:kurtTickLabels,yT:typeIKurtYTicks,yL:typeIKurtYLabels,
   xlab:xLabelBottom,r2:r2Values[4],r2Pos:[144.6,165],ylabX:320.7},
  {col:2,row:1,data:kurtNoExt,fit:fitKurtNoExt,xDom:[2,6],yDom:[0,0.02],xT:kurtTicks,xL:kurtTickLabels,yT:noExtKurtYTicks,yL:noExtKurtYLabels,
   xlab:xLabelBottom,r2:r2Values[5],r2Pos:[149,31.6],ylabX:616.7}
];

const svg = d3.select("#chart");
svg.append("rect").attr("width",890).attr("height",546).attr("fill","#fff");

function styleAxis(sel, size){
  sel.attr("font-family", null).attr("font-size", null);
  sel.select(".domain").remove();
  sel.selectAll(".tick line").attr("stroke", INK).attr("stroke-width", 1);
  sel.selectAll(".tick text").attr("fill", INK).style("font-size", size + "px");
}

panels.forEach(p => {
  const ox = colLeft[p.col], oy = rowTop[p.row];
  const g = svg.append("g").attr("transform", `translate(${ox},${oy})`);
  const x = d3.scaleLinear().domain(p.xDom).range([0, PW]);
  const y = d3.scaleLinear().domain(p.yDom).range([PH, 0]);

  // grid
  const gx = g.append("g").attr("transform", `translate(0,${PH})`)
    .call(d3.axisBottom(x).tickValues(p.xT).tickSize(-PH).tickFormat(""));
  const gy = g.append("g")
    .call(d3.axisLeft(y).tickValues(p.yT).tickSize(-PW).tickFormat(""));
  [gx, gy].forEach(s => { s.select(".domain").remove(); s.selectAll("line").attr("stroke", "#e0e0e0").attr("stroke-width", 1); });

  // axes box
  g.append("rect").attr("width", PW).attr("height", PH).attr("fill", "none").attr("stroke", INK).attr("stroke-width", 1);

  const ab = g.append("g").attr("transform", `translate(0,${PH})`)
    .call(d3.axisBottom(x).tickValues(p.xT).tickFormat((d,i) => p.xL[i]).tickSizeInner(-3).tickSizeOuter(0).tickPadding(12));
  styleAxis(ab, 13.5);
  const al = g.append("g")
    .call(d3.axisLeft(y).tickValues(p.yT).tickFormat((d,i) => p.yL[i]).tickSizeInner(-3).tickSizeOuter(0).tickPadding(6));
  styleAxis(al, 13.5);
  const at = g.append("g").call(d3.axisTop(x).tickValues(p.xT).tickFormat("").tickSizeInner(-3).tickSizeOuter(0));
  styleAxis(at, 13.5);
  const ar = g.append("g").attr("transform", `translate(${PW},0)`)
    .call(d3.axisRight(y).tickValues(p.yT).tickFormat("").tickSizeInner(-3).tickSizeOuter(0));
  styleAxis(ar, 13.5);

  // scatter
  g.append("g").selectAll("circle").data(p.data).join("circle")
    .attr("cx", d => x(d[0])).attr("cy", d => y(d[1])).attr("r", 1.9)
    .attr("fill", "none").attr("stroke", "#0000ff").attr("stroke-width", 1.25);

  // fitted line
  g.append("path").datum(p.fit)
    .attr("d", d3.line().x(d => x(d[0])).y(d => y(d[1])))
    .attr("fill", "none").attr("stroke", "#ff0000").attr("stroke-width", 2);

  // R^2 annotation
  const r2 = g.append("text").attr("x", p.r2Pos[0]).attr("y", p.r2Pos[1])
    .attr("fill", "#000").style("font-size", "12px");
  r2.append("tspan").text("R");
  r2.append("tspan").attr("dy", -5).style("font-size", "8.5px").text("2");
  r2.append("tspan").attr("dy", 5).text("=" + p.r2);

  // x label
  g.append("text").attr("x", PW / 2).attr("y", PH + 43.4).attr("text-anchor", "middle")
    .attr("fill", INK).style("font-size", "15px").text(p.xlab);

  // title
  if (p.title) {
    svg.append("text").attr("x", p.titleX).attr("y", p.titleY).attr("text-anchor", "middle")
      .attr("fill", "#000").style("font-size", "13.5px").style("font-weight", "bold").text(p.title);
  }

  // exponent marker for the 1e-3 axis
  if (p.expo) {
    const e = g.append("text").attr("x", 1.3).attr("y", -2.7).attr("fill", INK).style("font-size", "13px");
    e.append("tspan").text("\u00d710");
    e.append("tspan").attr("dy", -5).style("font-size", "9.5px").text("-3");
  }

  // y label K*
  const yl = svg.append("text")
    .attr("transform", `translate(${p.ylabX},${yLabelCenter[p.row]}) rotate(-90)`)
    .attr("text-anchor", "middle")
    .attr("fill", INK).style("font-size", "17px");
  yl.append("tspan").text("K");
  yl.append("tspan").attr("dy", -7).style("font-size", "11px").text("*");
});
</script>
</body></html>
